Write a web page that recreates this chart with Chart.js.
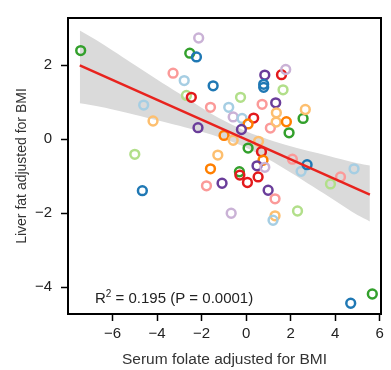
<!DOCTYPE html>
<html>
<head>
<meta charset="utf-8">
<script src="https://cdn.jsdelivr.net/npm/chart.js@4.4.1/dist/chart.umd.min.js"></script>
<style>
  html, body { margin: 0; padding: 0; background: #fff; }
  canvas { display: block; }
</style>
</head>
<body>
<canvas id="myChart" width="391" height="370"></canvas>
<script>
// points (folate x, liver fat y, colour group)
const folateX = [-7.43, -2.13, -2.53, -2.23, -3.28, -2.78, -1.48, -2.68, -2.46, -4.60,
  -4.18, -1.60, -2.16, -0.25, -0.78, -0.58, -0.18, 0.34, 0.09, -0.21,
  -0.99, -0.58, -5.00, -4.66, -1.27, -1.60, -1.78, -1.08, -0.30, -0.28,
  0.06, 0.09, 0.56, 0.69, 0.76, 0.49, 0.84, 0.54, 0.99, 1.30,
  -0.67, 1.30, 1.21, 2.31, 0.84, 0.79, 0.79, 1.59, 1.78, 1.66,
  0.72, 1.33, 1.36, 1.09, 1.35, 1.81, 1.93, 2.56, 2.66, 2.08,
  2.47, 2.74, 3.79, 4.24, 4.85, 4.70, 5.67];
const liverY = [2.39, 2.73, 2.32, 2.22, 1.78, 1.58, 1.44, 1.18, 1.13, 0.92,
  0.49, 0.86, 0.31, 1.13, 0.86, 0.60, 0.56, 0.57, 0.41, 0.26,
  0.10, -0.03, -0.41, -1.39, -0.43, -0.80, -1.26, -1.19, -0.88, -0.97,
  -1.17, -0.24, -0.06, -0.34, -0.57, -0.72, -0.76, -1.02, -1.38, -1.61,
  -2.00, -2.07, -2.19, -1.94, 1.73, 1.48, 1.40, 1.74, 1.88, 1.33,
  0.94, 0.98, 0.71, 0.30, 0.46, 0.47, 0.17, 0.56, 0.80, -0.54,
  -0.87, -0.69, -1.21, -1.02, -0.80, -4.43, -4.18];
const pointGroup = [3, 8, 3, 1, 4, 0, 1, 2, 5, 0,
  6, 4, 9, 2, 0, 8, 0, 5, 7, 9,
  7, 6, 2, 1, 6, 7, 4, 9, 3, 5,
  5, 3, 6, 5, 7, 9, 8, 5, 9, 4,
  8, 6, 0, 2, 9, 1, 1, 5, 8, 2,
  4, 9, 6, 4, 6, 7, 3, 3, 6, 4,
  0, 1, 2, 4, 0, 1, 3];

// regression line and confidence band
const lineX = [-7.47, 5.56];
const lineY = [1.99, -1.50];
const bandX = [-7.47, -6.5, -5, -4, -3, -2, -1, 0, 1, 2, 3, 4, 5, 5.56];
const bandUpper = [2.93, 2.59, 2.00, 1.61, 1.23, 0.85, 0.50, 0.21, -0.01, -0.19, -0.35, -0.50, -0.65, -0.71];
const bandLower = [0.97, 0.87, 0.66, 0.51, 0.36, 0.20, 0.01, -0.23, -0.54, -0.90, -1.28, -1.66, -2.05, -2.22];

const xTicks = [-6, -4, -2, 0, 2, 4, 6];
const yTicks = [-4, -2, 0, 2];

// paired palette
const palette = ["#a6cee3", "#1f78b4", "#b2df8a", "#33a02c", "#fb9a99",
  "#e31a1c", "#fdbf6f", "#ff7f00", "#cab2d6", "#6a3d9a"];

const FONT = "Arial, 'Liberation Sans', sans-serif";

function minusLabel(v) {
  return v < 0 ? "\u2212" + Math.abs(v) : String(v);
}

const points = folateX.map((x, i) => ({ x: x, y: liverY[i] }));
const pointColors = pointGroup.map(g => palette[g]);

// box round the plot + the R2 text
const boxPlugin = {
  id: "box",
  afterDraw(chart) {
    const { ctx, chartArea } = chart;
    ctx.save();
    ctx.strokeStyle = "#000";
    ctx.lineWidth = 2;
    ctx.strokeRect(chartArea.left, chartArea.top, chartArea.right - chartArea.left, chartArea.bottom - chartArea.top);

    let x = chartArea.left + 27;
    const y = chartArea.bottom - 11;
    ctx.fillStyle = "#222";
    ctx.textBaseline = "alphabetic";
    ctx.font = "15px " + FONT;
    ctx.fillText("R", x, y);
    x += ctx.measureText("R").width;
    ctx.font = "10px " + FONT;
    ctx.fillText("2", x, y - 6);
    x += ctx.measureText("2").width;
    ctx.font = "15px " + FONT;
    ctx.fillText(" = 0.195 (P = 0.0001)", x, y);
    ctx.restore();
  }
};

const ctx = document.getElementById("myChart");
new Chart(ctx, {
  type: "scatter",
  data: {
    datasets: [
      {
        type: "line",
        data: lineX.map((x, i) => ({ x: x, y: lineY[i] })),
        borderColor: "#e8231e",
        borderWidth: 2.5,
        pointRadius: 0,
        fill: false,
        order: 0
      },
      {
        data: points,
        pointRadius: 4.4,
        pointBorderWidth: 2.5,
        pointBorderColor: pointColors,
        pointBackgroundColor: "rgba(0,0,0,0)",
        order: 1
      },
      {
        type: "line",
        data: bandX.map((x, i) => ({ x: x, y: bandUpper[i] })),
        borderWidth: 0,
        borderColor: "rgba(0,0,0,0)",
        backgroundColor: "#dadada",
        pointRadius: 0,
        tension: 0.3,
        fill: "+1",
        order: 2
      },
      {
        type: "line",
        data: bandX.map((x, i) => ({ x: x, y: bandLower[i] })),
        borderWidth: 0,
        borderColor: "rgba(0,0,0,0)",
        pointRadius: 0,
        tension: 0.3,
        fill: false,
        order: 3
      }
    ]
  },
  options: {
    responsive: false,
    animation: false,
    devicePixelRatio: 1,
    layout: { padding: { top: 7, right: 10, left: 0, bottom: 0 } },
    plugins: { legend: { display: false }, tooltip: { enabled: false } },
    scales: {
      x: {
        type: "linear",
        min: -8,
        max: 6.06,
        afterBuildTicks: s => { s.ticks = xTicks.map(v => ({ value: v })); },
        afterFit: s => { s.height = 56; },
        grid: { drawOnChartArea: false, drawTicks: true, tickLength: 7, tickColor: "#000", tickWidth: 1.5 },
        border: { display: true, color: "#000", width: 2 },
        ticks: { color: "#222", padding: 4, font: { family: FONT, size: 15 }, callback: minusLabel },
        title: { display: true, text: "Serum folate adjusted for BMI", color: "#333",
          font: { family: FONT, size: 15.5, lineHeight: 1.2 }, padding: { top: 0, bottom: 1 } }
      },
      y: {
        type: "linear",
        min: -4.72,
        max: 3.27,
        afterBuildTicks: s => { s.ticks = yTicks.map(v => ({ value: v })); },
        afterFit: s => { s.width = 68; },
        grid: { drawOnChartArea: false, drawTicks: true, tickLength: 7, tickColor: "#000", tickWidth: 1.5 },
        border: { display: true, color: "#000", width: 2 },
        ticks: { color: "#222", padding: 9, font: { family: FONT, size: 15 }, callback: minusLabel },
        title: { display: true, text: "Liver fat adjusted for BMI", color: "#333",
          font: { family: FONT, size: 14, lineHeight: 1.2 }, padding: { top: 14, bottom: 0 } }
      }
    }
  },
  plugins: [boxPlugin]
});
</script>
</body>
</html>
